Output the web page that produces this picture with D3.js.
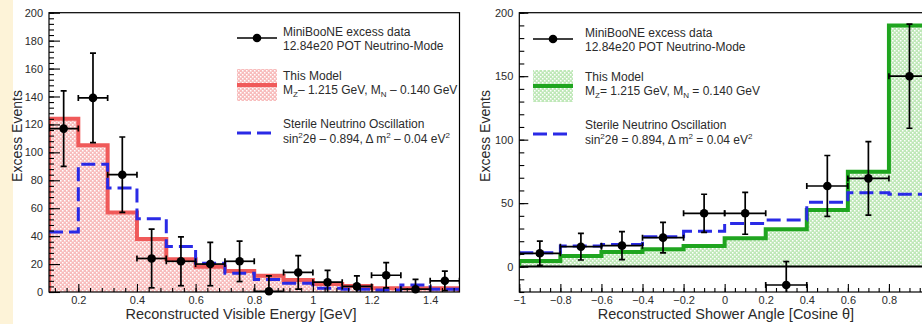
<!DOCTYPE html>
<html>
<head>
<meta charset="utf-8">
<script src="https://cdn.jsdelivr.net/npm/d3@7"></script>
<style>
  html, body { margin: 0; padding: 0; background: #ffffff; }
  svg { display: block; font-family: "Liberation Sans", Arial, sans-serif; }
</style>
</head>
<body>
<svg id="chart" width="922" height="324"></svg>
<script>
// ---- Reconstructed visible energy (GeV), 0.1 GeV bins ----
const energyEdges = [0.1, 0.2, 0.3, 0.4, 0.5, 0.6, 0.7, 0.8, 0.9, 1.0, 1.1, 1.2, 1.3, 1.4, 1.5];
const modelEnergy   = [124, 105, 57, 38, 23.5, 18, 15, 11.7, 8.6, 5.7, 4.3, 2.6, 2.6, 2.6];
const sterileEnergy = [43, 91.5, 74.5, 52.5, 32.5, 20.5, 13.4, 9, 6.2, 2.6, 1.9, 1.4, 5, 1.9];
const dataEnergy    = [117, 139, 84, 24, 22, 20, 22, 0.5, 14, 7, 4, 12, 2, 8];
const dataEnergyErr = [27, 32, 27, 21, 17.5, 15.5, 14.5, 11, 12, 8.5, 7.5, 9, 7, 7];
const energyTicks   = [0.2, 0.4, 0.6, 0.8, 1.0, 1.2, 1.4];
const energyYTicks  = [0, 20, 40, 60, 80, 100, 120, 140, 160, 180, 200];

// ---- Reconstructed shower angle (cos θ), 0.2 bins ----
const angleEdges = [-1, -0.8, -0.6, -0.4, -0.2, 0, 0.2, 0.4, 0.6, 0.8, 1.0];
const modelAngle   = [4.5, 8.3, 11.5, 13.6, 16.3, 22.3, 29.4, 44.6, 74.7, 190];
const sterileAngle = [11, 16.2, 17.5, 23.6, 27.8, 34, 36.7, 50.6, 58.2, 57];
const dataAngle    = [10.5, 15.7, 16.5, 22.8, 42, 42, -14.5, 63.5, 69.5, 150];
const dataAngleErr = [9.5, 10.5, 11, 12, 15, 16.5, 18.5, 24, 29, 41];
const angleTicks   = [-1, -0.8, -0.6, -0.4, -0.2, 0, 0.2, 0.4, 0.6, 0.8];
const angleYTicks  = [0, 50, 100, 150, 200];

const COLORS = {
  red: "#f05a5a", pinkBase: "#f8bcbc",
  green: "#1fa51f", greenBase: "#bfe8b8",
  blue: "#2a2ae6", ink: "#000000", label: "#2b2b2b"
};

const svg = d3.select("#chart");
const defs = svg.append("defs");

// fine dotted fill textures for the model histograms
function dotPattern(id, base) {
  const p = defs.append("pattern").attr("id", id)
    .attr("patternUnits", "userSpaceOnUse").attr("width", 4).attr("height", 4);
  p.append("rect").attr("width", 4).attr("height", 4).attr("fill", base);
  p.append("rect").attr("x", 0).attr("y", 0).attr("width", 1.5).attr("height", 1.5).attr("fill", "#ffffff");
  p.append("rect").attr("x", 2).attr("y", 2).attr("width", 1.5).attr("height", 1.5).attr("fill", "#ffffff");
}
dotPattern("pinkDots", COLORS.pinkBase);
dotPattern("greenDots", COLORS.greenBase);

// left margin strip
svg.append("rect").attr("x", 0).attr("y", 0).attr("width", 13).attr("height", 324).attr("fill", "#fdf3d8");

function stepPoints(edges, values, x, y) {
  const pts = [];
  values.forEach((v, i) => {
    pts.push([x(edges[i]), y(v)]);
    pts.push([x(edges[i + 1]), y(v)]);
  });
  return pts;
}

function drawPanel(cfg) {
  const { x, y } = cfg;
  const g = svg.append("g");
  const [x0, x1] = x.range();
  const [yb, yt] = y.range();

  const clipId = cfg.id + "-clip";
  defs.append("clipPath").attr("id", clipId)
    .append("rect").attr("x", x0).attr("y", yt).attr("width", x1 - x0).attr("height", yb - yt);
  const plot = g.append("g").attr("clip-path", `url(#${clipId})`);

  // model histogram: textured fill + thick outline
  const area = d3.area().x(d => d[0]).y0(y(0)).y1(d => d[1]);
  const modelPts = stepPoints(cfg.edges, cfg.model, x, y);
  plot.append("path").attr("d", area(modelPts)).attr("fill", `url(#${cfg.pattern})`);

  if (cfg.zeroLine) {
    plot.append("line").attr("x1", x0).attr("x2", x1).attr("y1", y(0)).attr("y2", y(0))
      .attr("stroke", COLORS.ink).attr("stroke-width", 2);
  }

  const outline = [[modelPts[0][0], y(0)], ...modelPts, [modelPts[modelPts.length - 1][0], y(0)]];
  plot.append("path").attr("d", d3.line()(outline))
    .attr("fill", "none").attr("stroke", cfg.color).attr("stroke-width", 4).attr("stroke-linejoin", "miter");

  // sterile oscillation prediction
  plot.append("path").attr("d", d3.line()(stepPoints(cfg.edges, cfg.sterile, x, y)))
    .attr("fill", "none").attr("stroke", COLORS.blue).attr("stroke-width", 3)
    .attr("stroke-dasharray", "14,6");

  // data points with error bars
  const pts = cfg.data.map((v, i) => ({
    lo: cfg.edges[i], hi: cfg.edges[i + 1], c: (cfg.edges[i] + cfg.edges[i + 1]) / 2, v, e: cfg.err[i]
  }));
  const eg = plot.append("g").attr("stroke", COLORS.ink).attr("stroke-width", 1.7);
  pts.forEach(p => {
    const cx = x(p.c), cy = y(p.v);
    eg.append("line").attr("x1", x(p.lo)).attr("x2", x(p.hi)).attr("y1", cy).attr("y2", cy);
    eg.append("line").attr("x1", cx).attr("x2", cx).attr("y1", y(p.v - p.e)).attr("y2", y(p.v + p.e));
    eg.append("line").attr("x1", cx - 3).attr("x2", cx + 3).attr("y1", y(p.v + p.e)).attr("y2", y(p.v + p.e));
    eg.append("line").attr("x1", cx - 3).attr("x2", cx + 3).attr("y1", y(p.v - p.e)).attr("y2", y(p.v - p.e));
    eg.append("line").attr("x1", x(p.lo)).attr("x2", x(p.lo)).attr("y1", cy - 3).attr("y2", cy + 3);
    eg.append("line").attr("x1", x(p.hi)).attr("x2", x(p.hi)).attr("y1", cy - 3).attr("y2", cy + 3);
  });
  g.append("g").selectAll("circle").data(pts).join("circle")
    .attr("cx", p => x(p.c)).attr("cy", p => y(p.v)).attr("r", 4.3).attr("fill", COLORS.ink);

  // frame
  g.append("rect").attr("x", x0).attr("y", yt).attr("width", x1 - x0).attr("height", yb - yt)
    .attr("fill", "none").attr("stroke", COLORS.ink).attr("stroke-width", 1.2);

  // axes: ticks point into the plot
  g.append("g").attr("transform", `translate(${x0},0)`)
    .call(d3.axisLeft(y).tickValues(cfg.yTicks).tickSize(-cfg.yMajor).tickPadding(6).tickFormat(d3.format("d")));
  g.append("g").attr("transform", `translate(${x0},0)`)
    .call(d3.axisLeft(y).tickValues(cfg.yMinor).tickSize(-5).tickFormat(""));
  g.append("g").attr("transform", `translate(0,${yb})`)
    .call(d3.axisBottom(x).tickValues(cfg.xTicks).tickSize(-8).tickPadding(4).tickFormat(d3.format("~g")));
  g.append("g").attr("transform", `translate(0,${yb})`)
    .call(d3.axisBottom(x).tickValues(cfg.xMinor).tickSize(-4).tickFormat(""));
  g.selectAll(".domain").remove();
  g.selectAll(".tick line").attr("stroke", COLORS.ink).attr("stroke-width", 1.1);
  g.selectAll(".tick text").attr("font-size", 11).attr("fill", COLORS.label)
    .attr("font-family", "Liberation Sans, Arial, sans-serif");

  // axis titles
  g.append("text").attr("x", cfg.xTitleX).attr("y", 319).attr("text-anchor", "middle")
    .attr("font-size", 14.5).attr("fill", COLORS.label).text(cfg.xTitle);
  g.append("text").attr("transform", `translate(${cfg.yTitleX},136) rotate(-90)`)
    .attr("text-anchor", "middle").attr("font-size", 14).attr("fill", COLORS.label).text("Excess Events");

  // legend
  const L = cfg.legend;
  const lg = g.append("g").attr("font-size", 12).attr("fill", COLORS.label);
  lg.append("line").attr("x1", L.x).attr("x2", L.x + 40).attr("y1", L.y + 6).attr("y2", L.y + 6)
    .attr("stroke", COLORS.ink).attr("stroke-width", 1.7);
  lg.append("circle").attr("cx", L.x + 20).attr("cy", L.y + 6).attr("r", 4.3).attr("fill", COLORS.ink);
  lg.append("text").attr("x", L.tx).attr("y", L.y + 4).text("MiniBooNE excess data");
  lg.append("text").attr("x", L.tx).attr("y", L.y + 18).text("12.84e20 POT Neutrino-Mode");

  lg.append("rect").attr("x", L.x).attr("y", L.y + 37).attr("width", 40).attr("height", 32)
    .attr("fill", `url(#${cfg.pattern})`);
  lg.append("line").attr("x1", L.x).attr("x2", L.x + 40).attr("y1", L.y + 53).attr("y2", L.y + 53)
    .attr("stroke", cfg.color).attr("stroke-width", 4);
  lg.append("text").attr("x", L.tx).attr("y", L.y + 48).text("This Model");
  const m = lg.append("text").attr("x", L.tx).attr("y", L.y + 62);
  m.append("tspan").text("M");
  m.append("tspan").attr("font-size", 8).attr("dy", 3).text("Z");
  m.append("tspan").attr("dy", -3).text(`${L.eq} 1.215 GeV, M`);
  m.append("tspan").attr("font-size", 8).attr("dy", 3).text("N");
  m.append("tspan").attr("dy", -3).text(` ${L.eq} 0.140 GeV`);

  lg.append("line").attr("x1", L.x).attr("x2", L.x + 40).attr("y1", L.y + 101).attr("y2", L.y + 101)
    .attr("stroke", COLORS.blue).attr("stroke-width", 3).attr("stroke-dasharray", "14,6");
  lg.append("text").attr("x", L.tx).attr("y", L.y + 96).text("Sterile Neutrino Oscillation");
  const s = lg.append("text").attr("x", L.tx).attr("y", L.y + 111);
  s.append("tspan").text("sin");
  s.append("tspan").attr("font-size", 8).attr("dy", -5).text("2");
  s.append("tspan").attr("dy", 5).text(`2\u03b8 ${L.eq} 0.894, \u0394 m`);
  s.append("tspan").attr("font-size", 8).attr("dy", -5).text("2");
  s.append("tspan").attr("dy", 5).text(` ${L.eq} 0.04 eV`);
  s.append("tspan").attr("font-size", 8).attr("dy", -5).text("2");
}

function rangeStep(a, b, step) {
  const out = [];
  for (let i = 0; a + i * step <= b + 1e-9; i++) out.push(+(a + i * step).toFixed(4));
  return out;
}

// left panel: energy spectrum
drawPanel({
  id: "energy",
  x: d3.scaleLinear().domain([0.1, 1.5]).range([49, 459.5]),
  y: d3.scaleLinear().domain([0, 200]).range([292, 12.7]),
  edges: energyEdges, model: modelEnergy, sterile: sterileEnergy,
  data: dataEnergy, err: dataEnergyErr,
  pattern: "pinkDots", color: COLORS.red, zeroLine: false,
  xTicks: energyTicks, xMinor: rangeStep(0.12, 1.48, 0.04),
  yTicks: energyYTicks, yMinor: rangeStep(0, 200, 4), yMajor: 11,
  xTitle: "Reconstructed Visible Energy [GeV]", xTitleX: 241,
  yTitleX: 22,
  legend: { x: 237, y: 32, tx: 283, eq: "\u2013" }
});

// right panel: angular distribution
drawPanel({
  id: "angle",
  x: d3.scaleLinear().domain([-1, 1]).range([519.3, 930]),
  y: d3.scaleLinear().domain([-20, 200]).range([292, 12.7]),
  edges: angleEdges, model: modelAngle, sterile: sterileAngle,
  data: dataAngle, err: dataAngleErr,
  pattern: "greenDots", color: COLORS.green, zeroLine: true,
  xTicks: angleTicks, xMinor: rangeStep(-1, 1, 0.05),
  yTicks: angleYTicks, yMinor: rangeStep(-20, 200, 10), yMajor: 9,
  xTitle: "Reconstructed Shower Angle [Cosine \u03b8]", xTitleX: 726,
  yTitleX: 490,
  legend: { x: 533, y: 33, tx: 585, eq: "=" }
});
</script>
</body>
</html>
